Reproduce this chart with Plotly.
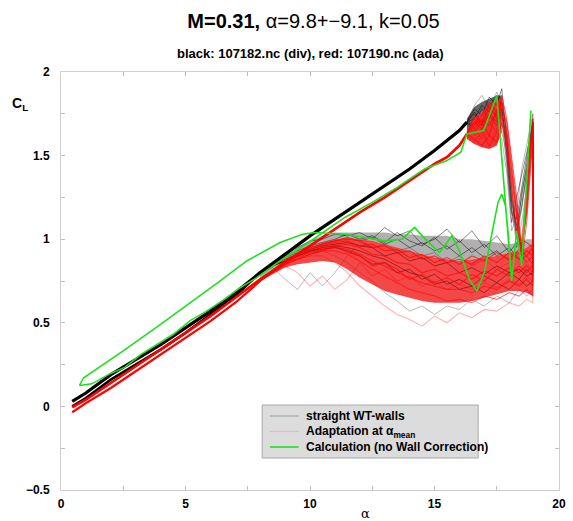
import plotly.graph_objects as go

# ---------------- data ----------------
# upstroke (attached flow), common alpha grid
alpha_up = [0.45, 1, 2, 3, 4, 5, 6, 7, 8, 9, 10, 11, 12, 13, 14, 15, 15.5, 16, 16.3]
cl_up_black = [0.03, 0.08, 0.19, 0.28, 0.37, 0.47, 0.57, 0.68, 0.80, 0.91, 1.02, 1.12, 1.22, 1.32, 1.42, 1.53, 1.59, 1.65, 1.70]
cl_up_red = [-0.005, 0.04, 0.14, 0.24, 0.34, 0.44, 0.54, 0.65, 0.76, 0.86, 0.96, 1.06, 1.16, 1.25, 1.35, 1.45, 1.49, 1.56, 1.63]

# downstroke at low alpha (reattached flow)
alpha_dn_low = [8, 7, 6, 5, 4, 3, 2, 1, 0.45]
cl_dn_low_black = [0.80, 0.66, 0.55, 0.44, 0.34, 0.25, 0.16, 0.05, 0.0]
cl_dn_low_red = [0.75, 0.62, 0.51, 0.41, 0.31, 0.21, 0.11, 0.02, -0.035]

# dynamic-stall region, alpha grid
alpha_stall = [16.3, 16.6, 16.9, 17.2, 17.5, 17.7, 17.9, 18.1, 18.3, 18.5, 18.7, 18.85, 18.95]
stall_black = [
    [1.70, 1.78, 1.74, 1.85, 1.80, 1.90, 1.60, 1.25, 1.05, 1.20, 1.40, 1.60, 1.70],
    [1.70, 1.72, 1.80, 1.76, 1.86, 1.80, 1.50, 1.15, 1.12, 1.30, 1.48, 1.64, 1.72],
    [1.70, 1.66, 1.72, 1.68, 1.76, 1.72, 1.45, 1.10, 1.25, 1.38, 1.52, 1.62, 1.68],
    [1.70, 1.75, 1.68, 1.80, 1.72, 1.84, 1.62, 1.30, 1.00, 1.28, 1.42, 1.56, 1.65],
    [1.70, 1.80, 1.86, 1.78, 1.88, 1.82, 1.55, 1.20, 0.95, 1.10, 1.30, 1.52, 1.62],
    [1.70, 1.62, 1.66, 1.56, 1.64, 1.60, 1.40, 1.05, 1.15, 1.42, 1.56, 1.68, 1.75],
    [1.70, 1.76, 1.70, 1.74, 1.68, 1.78, 1.58, 1.22, 1.08, 1.25, 1.45, 1.62, 1.70],
    [1.70, 1.68, 1.78, 1.72, 1.82, 1.76, 1.52, 1.18, 1.02, 1.18, 1.38, 1.58, 1.68],
]
stall_red = [
    [1.63, 1.70, 1.66, 1.75, 1.70, 1.82, 1.66, 1.42, 1.18, 0.92, 1.20, 1.50, 1.70],
    [1.63, 1.64, 1.70, 1.62, 1.78, 1.74, 1.60, 1.36, 1.10, 0.88, 1.25, 1.55, 1.68],
    [1.63, 1.60, 1.56, 1.62, 1.58, 1.70, 1.56, 1.30, 1.05, 0.96, 1.30, 1.58, 1.72],
    [1.63, 1.68, 1.74, 1.80, 1.84, 1.78, 1.70, 1.46, 1.22, 0.95, 1.15, 1.45, 1.62],
    [1.63, 1.58, 1.64, 1.55, 1.66, 1.64, 1.52, 1.28, 1.02, 1.00, 1.35, 1.62, 1.75],
    [1.63, 1.72, 1.68, 1.78, 1.74, 1.82, 1.64, 1.40, 1.15, 0.85, 1.10, 1.40, 1.60],
    [1.63, 1.66, 1.60, 1.70, 1.64, 1.76, 1.58, 1.33, 1.08, 0.90, 1.28, 1.52, 1.66],
    [1.63, 1.74, 1.70, 1.82, 1.76, 1.86, 1.72, 1.48, 1.25, 0.93, 1.18, 1.48, 1.64],
]
# dense core of the stall scatter
alpha_stall_core = [16.3, 16.6, 16.9, 17.2, 17.5, 17.7]
stall_core_red_hi = [1.64, 1.72, 1.76, 1.80, 1.83, 1.84]
stall_core_red_lo = [1.60, 1.57, 1.55, 1.54, 1.56, 1.64]
stall_core_black_hi = [1.72, 1.79, 1.82, 1.84, 1.86, 1.86]

# separated-flow downstroke, alpha grid (decreasing)
alpha_dn = [18.95, 18.7, 18.4, 18.0, 17.5, 17.0, 16.5, 16.0, 15.5, 15.0, 14.5, 14.0,
            13.5, 13.0, 12.5, 12.0, 11.5, 11.0, 10.5, 10.0, 9.5, 9.0, 8.5, 8.0]
down_black = [
    [0.95, 0.98, 1.00, 0.92, 1.02, 0.95, 1.05, 0.98, 1.06, 1.00, 0.97, 1.05, 1.02, 1.07, 1.00, 1.04, 1.02, 1.03, 1.00, 0.99, 0.95, 0.92, 0.86, 0.80],
    [0.85, 0.90, 0.88, 0.95, 0.90, 0.97, 0.92, 0.99, 0.94, 1.01, 0.96, 0.99, 1.04, 0.98, 1.02, 1.00, 1.03, 1.00, 0.98, 0.96, 0.93, 0.90, 0.85, 0.80],
    [0.80, 0.78, 0.82, 0.80, 0.84, 0.79, 0.83, 0.80, 0.86, 0.84, 0.89, 0.87, 0.92, 0.90, 0.95, 0.96, 0.98, 0.97, 0.96, 0.94, 0.91, 0.88, 0.84, 0.80],
    [0.75, 0.72, 0.76, 0.70, 0.74, 0.68, 0.72, 0.70, 0.75, 0.73, 0.78, 0.80, 0.84, 0.88, 0.90, 0.93, 0.95, 0.96, 0.95, 0.93, 0.90, 0.87, 0.84, 0.80],
    [0.70, 0.66, 0.70, 0.62, 0.66, 0.60, 0.64, 0.58, 0.60, 0.55, 0.60, 0.57, 0.63, 0.68, 0.75, 0.80, 0.86, 0.90, 0.93, 0.92, 0.90, 0.87, 0.84, 0.80],
    [0.82, 0.85, 0.80, 0.86, 0.82, 0.88, 0.84, 0.90, 0.86, 0.92, 0.90, 0.95, 0.93, 0.97, 0.95, 0.98, 0.90, 0.80, 0.72, 0.80, 0.70, 0.76, 0.83, 0.80],
    [0.90, 0.86, 0.92, 0.87, 0.93, 0.89, 0.95, 0.90, 0.96, 0.93, 0.98, 0.95, 1.00, 0.97, 1.01, 0.99, 1.01, 0.99, 0.97, 0.95, 0.92, 0.89, 0.85, 0.80],
    [0.78, 0.82, 0.76, 0.80, 0.74, 0.78, 0.72, 0.76, 0.73, 0.79, 0.76, 0.82, 0.80, 0.86, 0.85, 0.90, 0.93, 0.95, 0.94, 0.93, 0.90, 0.87, 0.84, 0.80],
]
down_red = [
    [0.90, 0.93, 0.88, 0.92, 0.86, 0.90, 0.85, 0.88, 0.86, 0.90, 0.88, 0.93, 0.92, 0.96, 0.95, 0.99, 1.00, 0.99, 0.97, 0.95, 0.91, 0.87, 0.81, 0.75],
    [0.80, 0.84, 0.80, 0.83, 0.78, 0.81, 0.76, 0.80, 0.78, 0.82, 0.80, 0.85, 0.86, 0.90, 0.91, 0.95, 0.97, 0.96, 0.95, 0.93, 0.90, 0.86, 0.81, 0.75],
    [0.72, 0.76, 0.72, 0.75, 0.70, 0.72, 0.68, 0.70, 0.70, 0.72, 0.74, 0.77, 0.80, 0.84, 0.87, 0.91, 0.94, 0.95, 0.94, 0.92, 0.89, 0.86, 0.81, 0.75],
    [0.66, 0.70, 0.66, 0.68, 0.64, 0.66, 0.62, 0.64, 0.63, 0.66, 0.68, 0.70, 0.74, 0.78, 0.82, 0.87, 0.91, 0.93, 0.93, 0.91, 0.88, 0.85, 0.80, 0.75],
    [0.62, 0.64, 0.60, 0.62, 0.57, 0.58, 0.53, 0.56, 0.50, 0.54, 0.48, 0.52, 0.55, 0.60, 0.66, 0.72, 0.80, 0.86, 0.90, 0.90, 0.88, 0.85, 0.80, 0.75],
    [0.85, 0.80, 0.84, 0.78, 0.82, 0.75, 0.79, 0.73, 0.77, 0.74, 0.79, 0.76, 0.82, 0.86, 0.84, 0.90, 0.92, 0.96, 0.93, 0.91, 0.88, 0.85, 0.80, 0.75],
    [0.75, 0.78, 0.73, 0.76, 0.71, 0.74, 0.70, 0.73, 0.70, 0.75, 0.72, 0.78, 0.75, 0.82, 0.78, 0.86, 0.76, 0.70, 0.78, 0.72, 0.80, 0.84, 0.80, 0.75],
    [0.95, 0.90, 0.94, 0.88, 0.92, 0.87, 0.90, 0.85, 0.89, 0.86, 0.91, 0.89, 0.94, 0.93, 0.97, 0.96, 0.99, 0.98, 0.96, 0.94, 0.91, 0.87, 0.81, 0.75],
]
# dense core of the downstroke scatter
core_red_hi = [0.98, 0.95, 0.93, 0.92, 0.90, 0.89, 0.88, 0.87, 0.88, 0.89, 0.91, 0.93, 0.95, 0.97, 0.99, 1.00, 1.01, 1.00, 0.98, 0.95, 0.92, 0.88, 0.82, 0.75]
core_red_lo = [0.66, 0.68, 0.69, 0.69, 0.67, 0.65, 0.63, 0.62, 0.62, 0.62, 0.63, 0.65, 0.67, 0.69, 0.73, 0.77, 0.82, 0.86, 0.87, 0.86, 0.85, 0.83, 0.79, 0.75]
core_black_hi = [1.00, 1.00, 0.98, 0.97, 0.98, 0.99, 1.00, 1.00, 1.02, 1.02, 1.02, 1.03, 1.03, 1.04, 1.04, 1.04, 1.04, 1.04, 1.02, 0.99, 0.95, 0.91, 0.86, 0.80]

# calculation (green), one closed cycle
alpha_calc = [0.74, 1.24, 1.9, 2.57, 3.2, 3.9, 4.5, 5.2, 5.8, 6.5, 7.2, 7.86, 8.8, 9.84, 10.6,
              11.4, 12.5, 13.5, 14.2, 14.6, 15.5, 16.06, 16.3, 16.98, 17.5, 18.1, 18.3, 18.5,
              18.87, 18.5, 18.3, 18.1, 17.95, 17.85, 17.7, 17.55, 17.3, 17.0, 16.7, 16.4,
              16.0, 15.7, 15.45, 15.2, 14.7, 14.2, 13.7, 13.0, 12.2, 11.4, 10.2, 9.7, 8.8,
              7.46, 6.3, 5.2, 3.9, 2.57, 1.3, 0.9, 0.74]
cl_calc = [0.125, 0.135, 0.19, 0.235, 0.31, 0.375, 0.43, 0.515, 0.565, 0.634, 0.71, 0.77, 0.87, 0.97, 1.05,
           1.13, 1.22, 1.31, 1.38, 1.42, 1.47, 1.52, 1.63, 1.65, 1.86, 0.75, 1.05, 0.84,
           1.77, 0.84, 1.05, 0.75, 1.05, 1.20, 1.27, 1.22, 1.03, 0.80, 0.69, 0.76,
           0.93, 1.02, 0.97, 0.92, 0.99, 1.07, 1.00, 0.99, 1.01, 1.03, 1.04, 1.03, 0.98,
           0.87, 0.74, 0.62, 0.48, 0.34, 0.21, 0.17, 0.125]

legend_names = ["straight WT-walls", "Adaptation at \u03b1<sub>mean</sub>", "Calculation (no Wall Correction)"]

# ---------------- styles ----------------
FONT = "Liberation Sans, Arial, Helvetica, sans-serif"
legend_colors = ["#a9a9a9", "#f2b4b4", "#1fe01f"]
black_line_alpha = [0.6, 0.6, 0.55, 0.5, 0.35, 0.35, 0.6, 0.5]
red_line_alpha = [0.65, 0.65, 0.6, 0.55, 0.3, 0.6, 0.3, 0.65]

fig = go.Figure()

def line(x, y, color, width, fill=None, fillcolor=None):
    fig.add_trace(go.Scatter(x=x, y=y, mode="lines", line=dict(color=color, width=width),
                             fill=fill, fillcolor=fillcolor, hoverinfo="skip", showlegend=False))

# black (straight walls)
line(alpha_dn + alpha_dn[::-1], core_black_hi + core_red_hi[::-1], "rgba(0,0,0,0)", 0,
     fill="toself", fillcolor="rgba(30,30,30,0.35)")
line(alpha_stall_core + alpha_stall_core[::-1], stall_core_black_hi + stall_core_red_hi[::-1],
     "rgba(0,0,0,0)", 0, fill="toself", fillcolor="rgba(0,0,0,0.6)")
for s, d, a in zip(stall_black, down_black, black_line_alpha):
    line(alpha_stall + alpha_dn, s + d, "rgba(0,0,0,%.2f)" % a, 0.8)
line(alpha_up, cl_up_black, "black", 3.2)
line(alpha_dn_low, cl_dn_low_black, "black", 2.6)

# red (adaptation)
line(alpha_dn + alpha_dn[::-1], core_red_hi + core_red_lo[::-1], "rgba(0,0,0,0)", 0,
     fill="toself", fillcolor="rgba(240,0,0,0.72)")
line(alpha_stall_core + alpha_stall_core[::-1], stall_core_red_hi + stall_core_red_lo[::-1],
     "rgba(0,0,0,0)", 0, fill="toself", fillcolor="rgba(240,0,0,0.8)")
# a few black cycles show through the red cloud
for d in down_black[2:4] + down_black[7:8]:
    line(alpha_dn, d, "rgba(0,0,0,0.3)", 0.7)
for s, d, a in zip(stall_red, down_red, red_line_alpha):
    line(alpha_stall + alpha_dn, s + d, "rgba(255,0,0,%.2f)" % a, 1.1)
line(alpha_up, cl_up_red, "#ff0000", 2.6)
line(alpha_dn_low, cl_dn_low_red, "#ff0000", 2.2)

# green (calculation)
line(alpha_calc, cl_calc, "#1fe01f", 1.6)

axis_common = dict(
    showgrid=False, zeroline=False, showline=True, linecolor="#cfcfcf", linewidth=1,
    mirror="ticks", ticks="inside", ticklen=4, tickcolor="#bdbdbd", tickwidth=1,
    tickfont=dict(family=FONT, size=12, color="black", weight="bold"),
)
fig.update_xaxes(range=[0, 20], dtick=5, tick0=0, ticklabelstandoff=3,
                 minor=dict(dtick=2.5, ticks="inside", ticklen=4, tickcolor="#bdbdbd"),
                 **axis_common)
fig.update_yaxes(range=[-0.5, 2], dtick=0.5, tick0=0, ticklabelstandoff=8,
                 minor=dict(dtick=0.25, ticks="inside", ticklen=4, tickcolor="#bdbdbd"),
                 **axis_common)

# legend drawn as a box (paper coordinates from pixel positions)
W_PLOT, H_PLOT, L, T = 505, 418, 61, 72
def px(xp):
    return (xp - L) / W_PLOT
def py(yp):
    return (T + H_PLOT - yp) / H_PLOT

shapes = [dict(type="rect", xref="paper", yref="paper", x0=px(265), x1=px(484), y0=py(458), y1=py(405),
               fillcolor="#dcdcdc", line=dict(color="#a8a8a8", width=1), layer="above")]
annotations = []
for i, (name, col) in enumerate(zip(legend_names, legend_colors)):
    yrow = 416 + 15.5 * i
    shapes.append(dict(type="line", xref="paper", yref="paper", x0=px(273), x1=px(302),
                       y0=py(yrow), y1=py(yrow), line=dict(color=col, width=1.6 if i == 2 else 1.2),
                       layer="above"))
    annotations.append(dict(text="<b>" + name + "</b>", xref="paper", yref="paper", x=px(307), y=py(yrow),
                            xanchor="left", yanchor="middle", showarrow=False,
                            font=dict(size=12, family=FONT, color="black")))

annotations += [
    dict(text="<b>black: 107182.nc (div), red: 107190.nc (ada)</b>", xref="paper", yref="paper",
         x=0.5, y=py(53), xanchor="center", yanchor="middle", showarrow=False,
         font=dict(size=13, family=FONT, color="black")),
    dict(text="<b>C</b><sub><b>L</b></sub>", xref="paper", yref="paper",
         x=px(19), y=py(104), xanchor="center", yanchor="middle",
         showarrow=False, font=dict(size=14, family=FONT, color="black")),
    dict(text="\u03b1", xref="paper", yref="paper",
         x=px(370), y=py(513), xanchor="center", yanchor="middle",
         showarrow=False, font=dict(size=13, family="DejaVu Serif, serif", color="black")),
]

fig.update_layout(
    width=573, height=521,
    margin=dict(l=61, r=7, t=72, b=31),
    paper_bgcolor="white", plot_bgcolor="white",
    font=dict(family=FONT, color="black"),
    title=dict(text="<b>M=0.31,</b> \u03b1=9.8+\u22129.1, k=0.05", x=(61 + 252.5) / 573, xanchor="center",
               y=1 - 21 / 521, yanchor="middle", font=dict(size=20, family=FONT, color="black")),
    showlegend=False,
    shapes=shapes,
    annotations=annotations,
)

fig.write_html("out.html")
